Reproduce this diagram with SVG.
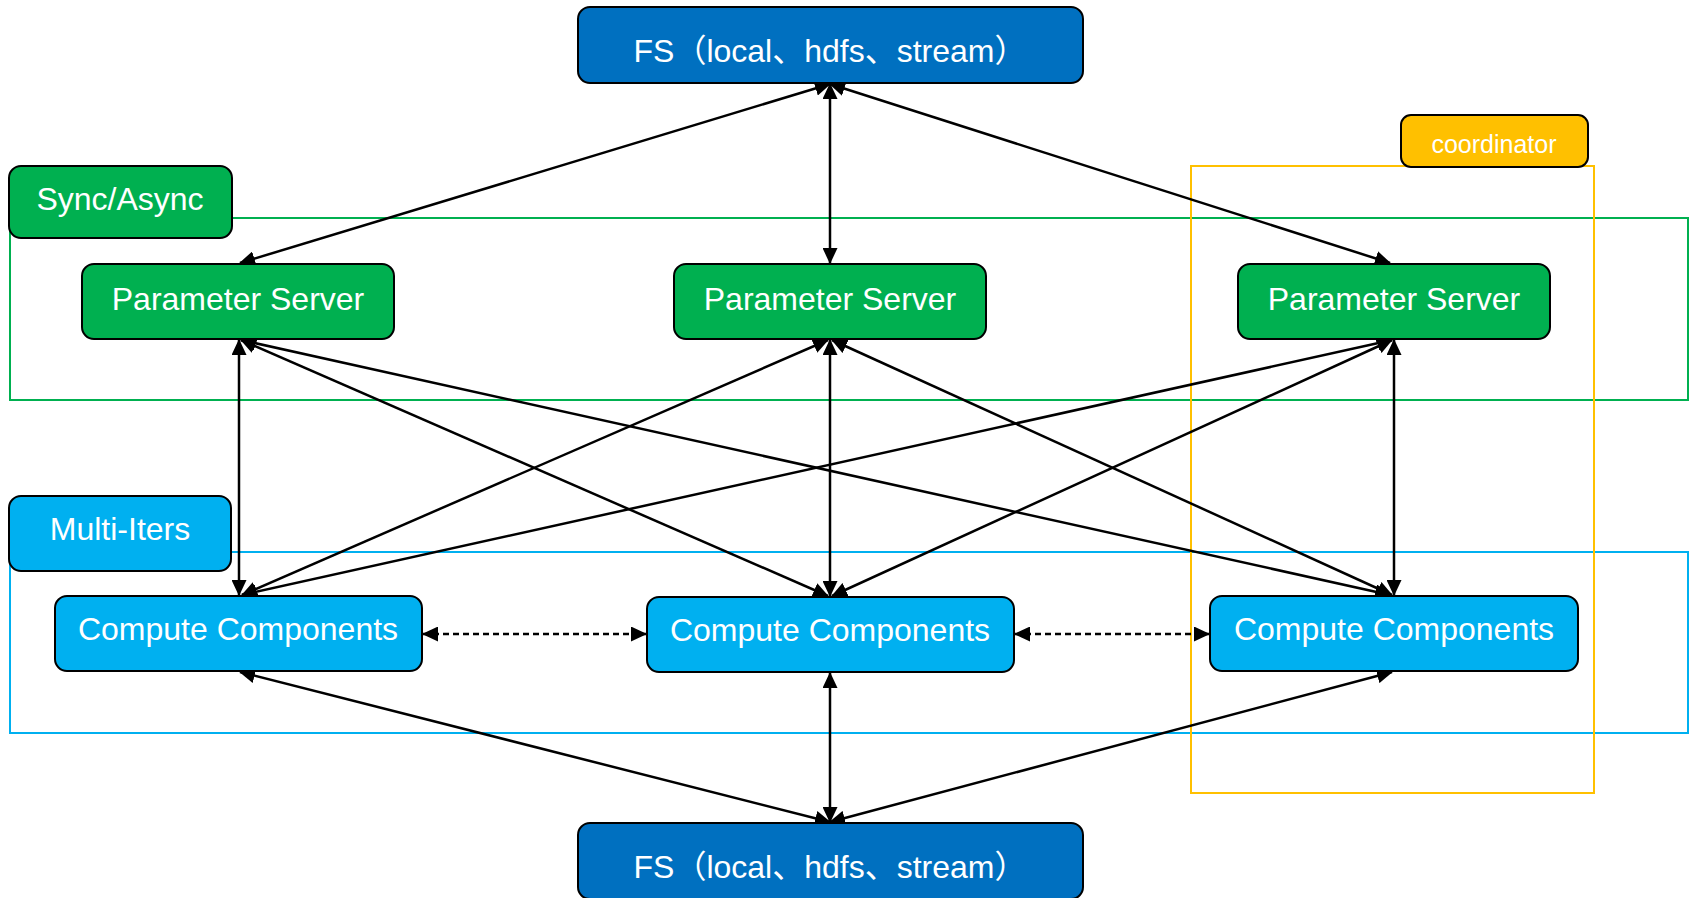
<svg xmlns="http://www.w3.org/2000/svg" width="1695" height="898" viewBox="0 0 1695 898">
  <style>
    .box { stroke: #000; stroke-width: 2; }
    .fs { fill: #0070C0; }
    .ps { fill: #00B050; }
    .cc { fill: #00B0F0; }
    .co { fill: #FFC000; }
    .lbl { fill: #fff; font-family: "Liberation Sans", "Noto Sans CJK SC", Arial, sans-serif; font-size: 32px; text-anchor: middle; }
    .small { font-size: 25px; }
    .frame { fill: none; stroke-width: 2; }
    .link { fill: none; stroke: #000; stroke-width: 2.5; marker-start: url(#arr); marker-end: url(#arr); }
    .dash { stroke-dasharray: 6 4; }
  </style>
  <defs>
    <marker id="arr" viewBox="0 0 16 15" refX="15" refY="7.5" markerWidth="16" markerHeight="15" markerUnits="userSpaceOnUse" orient="auto-start-reverse">
      <path d="M0,0 L16,7.5 L0,15 z" fill="#000"/>
    </marker>
  </defs>
  <rect width="1695" height="898" fill="#fff"/>

  <!-- group frames -->
  <g id="frames">
    <rect x="10" y="218" width="1678" height="182" class="frame" stroke="#00B050"/>
    <rect x="10" y="552" width="1678" height="181" class="frame" stroke="#00B0F0"/>
    <rect x="1191" y="166" width="403" height="627" class="frame" stroke="#FFC000"/>
  </g>

  <!-- connectors -->
  <g id="connectors">
    <!-- FS (top) to parameter servers -->
    <line class="link" x1="830" y1="84" x2="240" y2="263"/>
    <line class="link" x1="830" y1="84" x2="830" y2="263"/>
    <line class="link" x1="830" y1="84" x2="1390" y2="263"/>
    <!-- parameter servers to compute components -->
    <line class="link" x1="239" y1="340" x2="239" y2="595"/>
    <line class="link" x1="241" y1="340" x2="828" y2="596"/>
    <line class="link" x1="241" y1="340" x2="1390" y2="595"/>
    <line class="link" x1="828" y1="340" x2="242" y2="595"/>
    <line class="link" x1="830" y1="340" x2="830" y2="596"/>
    <line class="link" x1="832" y1="340" x2="1392" y2="595"/>
    <line class="link" x1="1392" y1="340" x2="242" y2="595"/>
    <line class="link" x1="1392" y1="340" x2="832" y2="596"/>
    <line class="link" x1="1394" y1="340" x2="1394" y2="595"/>
    <!-- compute components peer links -->
    <line class="link dash" x1="423" y1="634" x2="646" y2="634"/>
    <line class="link dash" x1="1015" y1="634" x2="1209" y2="634"/>
    <!-- compute components to FS (bottom) -->
    <line class="link" x1="240" y1="672" x2="830" y2="822"/>
    <line class="link" x1="830" y1="673" x2="830" y2="822"/>
    <line class="link" x1="1392" y1="672" x2="830" y2="822"/>
  </g>

  <!-- nodes -->
  <g id="fs-top">
    <rect class="box fs" x="578" y="7" width="505" height="76" rx="12"/>
    <text class="lbl" x="830" y="62">FS（local、hdfs、stream）</text>
  </g>
  <g id="fs-bottom">
    <rect class="box fs" x="578" y="823" width="505" height="76" rx="12"/>
    <text class="lbl" x="830" y="878">FS（local、hdfs、stream）</text>
  </g>
  <g id="sync-label">
    <rect class="box ps" x="9" y="166" width="223" height="72" rx="12"/>
    <text class="lbl" x="120" y="210">Sync/Async</text>
  </g>
  <g id="coordinator-label">
    <rect class="box co" x="1401" y="115" width="187" height="52" rx="10"/>
    <text class="lbl small" x="1494" y="153">coordinator</text>
  </g>
  <g id="multi-iters-label">
    <rect class="box cc" x="9" y="496" width="222" height="75" rx="12"/>
    <text class="lbl" x="120" y="540">Multi-Iters</text>
  </g>
  <g id="ps-1">
    <rect class="box ps" x="82" y="264" width="312" height="75" rx="12"/>
    <text class="lbl" x="238" y="310">Parameter Server</text>
  </g>
  <g id="ps-2">
    <rect class="box ps" x="674" y="264" width="312" height="75" rx="12"/>
    <text class="lbl" x="830" y="310">Parameter Server</text>
  </g>
  <g id="ps-3">
    <rect class="box ps" x="1238" y="264" width="312" height="75" rx="12"/>
    <text class="lbl" x="1394" y="310">Parameter Server</text>
  </g>
  <g id="cc-1">
    <rect class="box cc" x="55" y="596" width="367" height="75" rx="12"/>
    <text class="lbl" x="238" y="640">Compute Components</text>
  </g>
  <g id="cc-2">
    <rect class="box cc" x="647" y="597" width="367" height="75" rx="12"/>
    <text class="lbl" x="830" y="641">Compute Components</text>
  </g>
  <g id="cc-3">
    <rect class="box cc" x="1210" y="596" width="368" height="75" rx="12"/>
    <text class="lbl" x="1394" y="640">Compute Components</text>
  </g>
</svg>
